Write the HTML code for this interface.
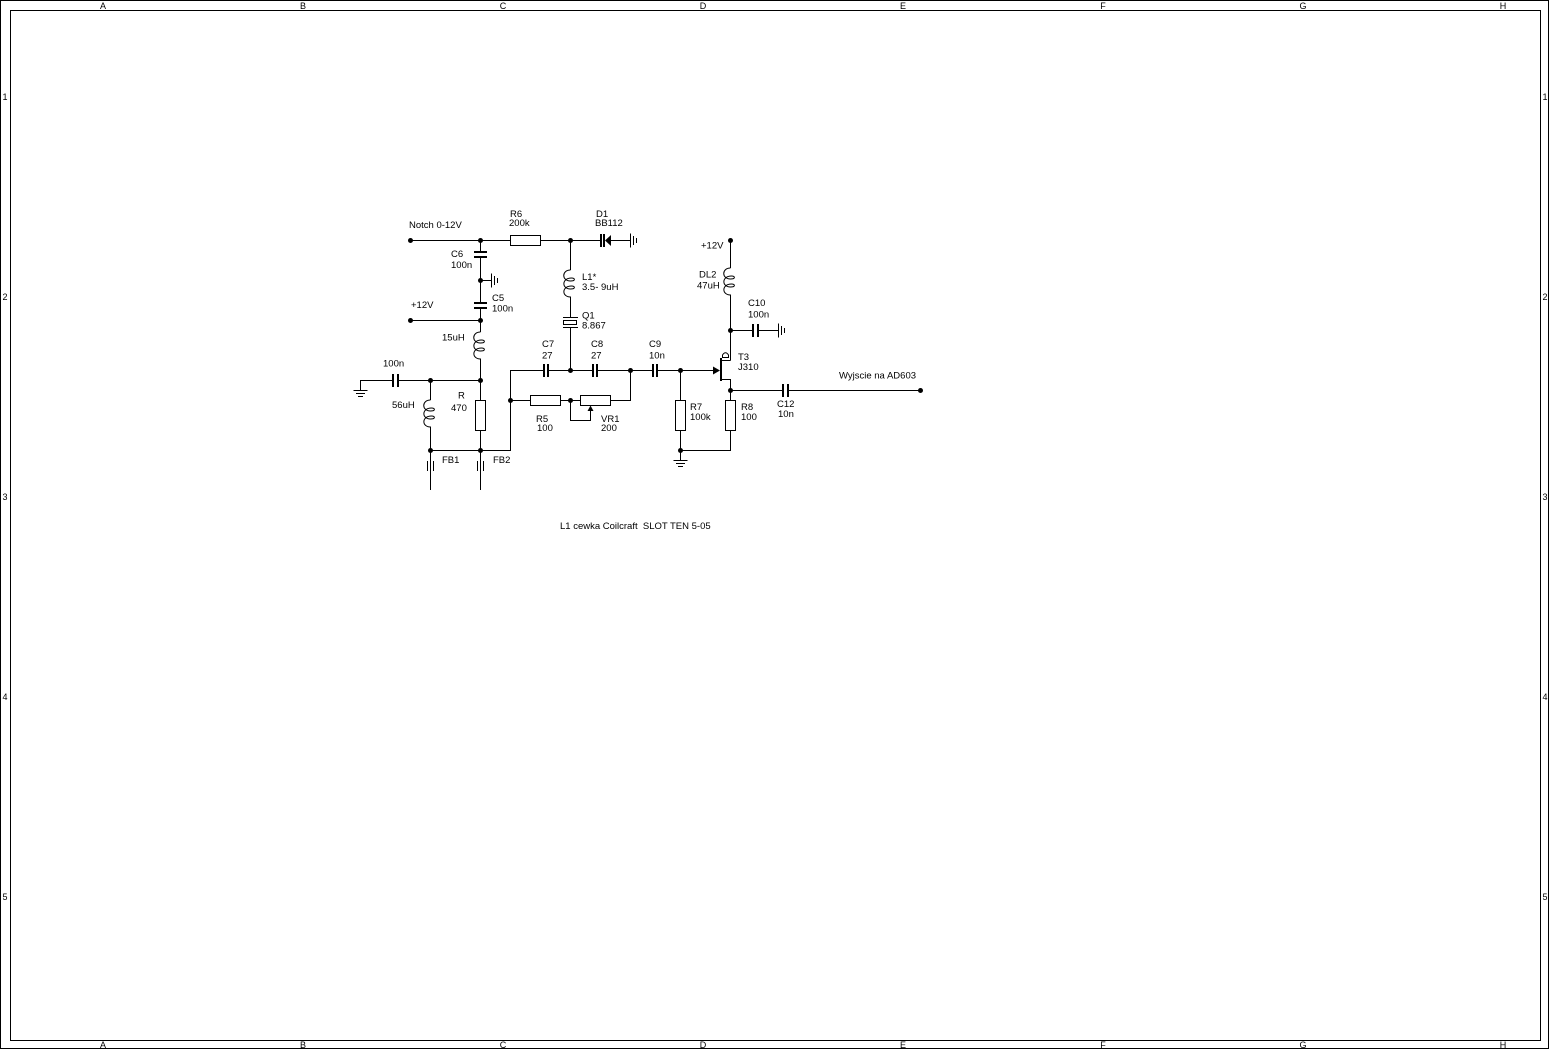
<!DOCTYPE html>
<html>
<head>
<meta charset="utf-8">
<style>
html,body{margin:0;padding:0;background:#fff;}
svg{display:block;}
text{font-family:"Liberation Sans",sans-serif;font-size:9.5px;fill:#000;}
.b text{font-size:9px;}
</style>
</head>
<body>
<svg width="1550" height="1050" viewBox="0 0 1550 1050" xmlns="http://www.w3.org/2000/svg">
<defs>
<path id="coil" d="M0,0 C-9,0 -9,11 0,11 C5,11 5,8 1,8 C-9,8 -9,19 0,19 C5,19 5,16 1,16 C-9,16 -9,27 0,27 L0,30" fill="none" stroke="#000" stroke-width="1"/>
</defs>
<rect x="0" y="0" width="1550" height="1050" fill="#fff"/>

<!-- border -->
<g stroke="#000" stroke-width="1" fill="none" shape-rendering="crispEdges">
<rect x="0.5" y="0.5" width="1548" height="1048"/>
<rect x="10.5" y="10.5" width="1530" height="1030"/>
</g>
<g class="b" text-anchor="middle">
<text x="103" y="9">A</text><text x="303" y="9">B</text><text x="503" y="9">C</text><text x="703" y="9">D</text>
<text x="903" y="9">E</text><text x="1103" y="9">F</text><text x="1303" y="9">G</text><text x="1503" y="9">H</text>
<text x="103" y="1048">A</text><text x="303" y="1048">B</text><text x="503" y="1048">C</text><text x="703" y="1048">D</text>
<text x="903" y="1048">E</text><text x="1103" y="1048">F</text><text x="1303" y="1048">G</text><text x="1503" y="1048">H</text>
<text x="5" y="100">1</text><text x="5" y="300">2</text><text x="5" y="500">3</text><text x="5" y="700">4</text><text x="5" y="900">5</text>
<text x="1545" y="100">1</text><text x="1545" y="300">2</text><text x="1545" y="500">3</text><text x="1545" y="700">4</text><text x="1545" y="900">5</text>
</g>

<!-- wires & outlines -->
<g stroke="#000" stroke-width="1" fill="none" shape-rendering="crispEdges">
<path d="M410.5 240.5 H510.5 M540.5 240.5 H600 M611 240.5 H630.5"/>
<rect x="510.5" y="235.5" width="30" height="10"/>
<path d="M630.5 233.5 V247.5 M633.5 236 V245 M636.5 238 V243"/>
<path d="M480.5 240.5 V251 M480.5 258 V302 M480.5 309 V332 M480.5 362 V400.5 M480.5 430.5 V490"/>
<rect x="475.5" y="400.5" width="10" height="30"/>
<path d="M480.5 280.5 H491.5 M491.5 273.5 V287.5 M494.5 276 V285 M497.5 278 V283"/>
<path d="M410.5 320.5 H480.5"/>
<path d="M360.5 390.5 V380.5 H392 M399 380.5 H480.5"/>
<path d="M353.5 390.5 H367.5 M356 393.5 H365 M358 396.5 H363"/>
<path d="M430.5 380.5 V400 M430.5 430 V490"/>
<path d="M427.5 461 V471 M433.5 461 V471 M477.5 461 V471 M483.5 461 V471"/>
<path d="M430.5 450.5 H510.5 V370.5 H543 M549 370.5 H592 M598 370.5 H652 M658 370.5 H714"/>
<path d="M570.5 240.5 V270 M570.5 300 V317 M563 317.5 H578 M563 327.5 H578 M570.5 328 V370.5"/>
<rect x="563.5" y="320.5" width="13" height="4"/>
<path d="M510.5 400.5 H530.5 M560.5 400.5 H580.5 M610.5 400.5 H630.5 V370.5"/>
<rect x="530.5" y="395.5" width="30" height="10"/>
<rect x="580.5" y="395.5" width="30" height="10"/>
<path d="M570.5 400.5 V420.5 H590.5 V410"/>
<path d="M680.5 370.5 V400.5 M680.5 430.5 V460.5 M680.5 450.5 H730.5 V430.5"/>
<rect x="675.5" y="400.5" width="10" height="30"/>
<rect x="725.5" y="400.5" width="10" height="30"/>
<path d="M673.5 460.5 H687.5 M676 463.5 H685 M678 466.5 H683"/>
<path d="M730.5 240.5 V268 M730.5 298 V360.5 M730.5 330.5 H752 M759 330.5 H778.5"/>
<path d="M778.5 323.5 V337.5 M781.5 326 V335 M784.5 328 V333"/>
<path d="M722 360.5 H730.5 M722 379.5 H730.5 V400.5"/>
<path d="M730.5 390.5 H782 M789 390.5 H920.5"/>
</g>

<!-- coils -->
<use href="#coil" transform="translate(480.5,332)"/>
<use href="#coil" transform="translate(430.5,400)"/>
<use href="#coil" transform="translate(570.5,270)"/>
<use href="#coil" transform="translate(730.5,268)"/>

<path d="M722.5 357.5 V355 Q725.5 350.5 728.5 355 V357.5 Z" fill="none" stroke="#000" stroke-width="1"/>

<g fill="#000" shape-rendering="crispEdges">
<rect x="474" y="251" width="13" height="2"/><rect x="474" y="256" width="13" height="2"/>
<rect x="474" y="302" width="13" height="2"/><rect x="474" y="307" width="13" height="2"/>
<rect x="392" y="374" width="2" height="13"/><rect x="397" y="374" width="2" height="13"/>
<rect x="543" y="364" width="2" height="13"/><rect x="547" y="364" width="2" height="13"/>
<rect x="592" y="364" width="2" height="13"/><rect x="596" y="364" width="2" height="13"/>
<rect x="652" y="364" width="2" height="13"/><rect x="656" y="364" width="2" height="13"/>
<rect x="752" y="324" width="2" height="13"/><rect x="757" y="324" width="2" height="13"/>
<rect x="782" y="384" width="2" height="13"/><rect x="787" y="384" width="2" height="13"/>
<rect x="600" y="234" width="2" height="13"/><rect x="603" y="234" width="2" height="13"/>
<rect x="720" y="358" width="2" height="23"/>
</g>
<g fill="#000">
<polygon points="605,240.5 611,235 611,246"/>
<polygon points="720,370.5 713,366.5 713,374.5"/>
<polygon points="590.5,405.5 587.5,411 593.5,411"/>
<circle cx="410.5" cy="240.5" r="2.5"/>
<circle cx="480.5" cy="240.5" r="2.5"/>
<circle cx="570.5" cy="240.5" r="2.5"/>
<circle cx="480.5" cy="280.5" r="2.5"/>
<circle cx="410.5" cy="320.5" r="2.5"/>
<circle cx="480.5" cy="320.5" r="2.5"/>
<circle cx="430.5" cy="380.5" r="2.5"/>
<circle cx="480.5" cy="380.5" r="2.5"/>
<circle cx="430.5" cy="450.5" r="2.5"/>
<circle cx="480.5" cy="450.5" r="2.5"/>
<circle cx="510.5" cy="400.5" r="2.5"/>
<circle cx="570.5" cy="370.5" r="2.5"/>
<circle cx="630.5" cy="370.5" r="2.5"/>
<circle cx="680.5" cy="370.5" r="2.5"/>
<circle cx="570.5" cy="400.5" r="2.5"/>
<circle cx="680.5" cy="450.5" r="2.5"/>
<circle cx="730.5" cy="240.5" r="2.5"/>
<circle cx="730.5" cy="330.5" r="2.5"/>
<circle cx="730.5" cy="390.5" r="2.5"/>
<circle cx="920.5" cy="390.5" r="2.5"/>
</g>

<g>
<text x="409" y="228">Notch 0-12V</text>
<text x="510" y="217">R6</text><text x="509" y="226">200k</text>
<text x="596" y="217">D1</text><text x="595" y="226">BB112</text>
<text x="451" y="257">C6</text><text x="451" y="268">100n</text>
<text x="492" y="301">C5</text><text x="492" y="311.5">100n</text>
<text x="411" y="308">+12V</text>
<text x="442" y="340.5">15uH</text>
<text x="383" y="366.5">100n</text>
<text x="392" y="408">56uH</text>
<text x="458" y="398.5">R</text><text x="451" y="411">470</text>
<text x="442" y="463">FB1</text><text x="493" y="463">FB2</text>
<text x="582" y="280">L1*</text><text x="582" y="290">3.5- 9uH</text>
<text x="582" y="318.5">Q1</text><text x="582" y="328.5">8.867</text>
<text x="542" y="347">C7</text><text x="542" y="358.5">27</text>
<text x="591" y="347">C8</text><text x="591" y="358.5">27</text>
<text x="649" y="347">C9</text><text x="649" y="358.5">10n</text>
<text x="536" y="422">R5</text><text x="537" y="431">100</text>
<text x="601" y="422">VR1</text><text x="601" y="431">200</text>
<text x="701" y="248.5">+12V</text>
<text x="699" y="277.5">DL2</text><text x="697" y="288.5">47uH</text>
<text x="748" y="306">C10</text><text x="748" y="317.5">100n</text>
<text x="738" y="360">T3</text><text x="738" y="370">J310</text>
<text x="690" y="410">R7</text><text x="690" y="420">100k</text>
<text x="741" y="410">R8</text><text x="741" y="420">100</text>
<text x="777" y="407">C12</text><text x="778" y="417">10n</text>
<text x="839" y="378.5">Wyjscie na AD603</text>
<text x="560" y="529" style="white-space:pre" xml:space="preserve">L1 cewka Coilcraft  SLOT TEN 5-05</text>
</g>
</svg>
</body>
</html>
